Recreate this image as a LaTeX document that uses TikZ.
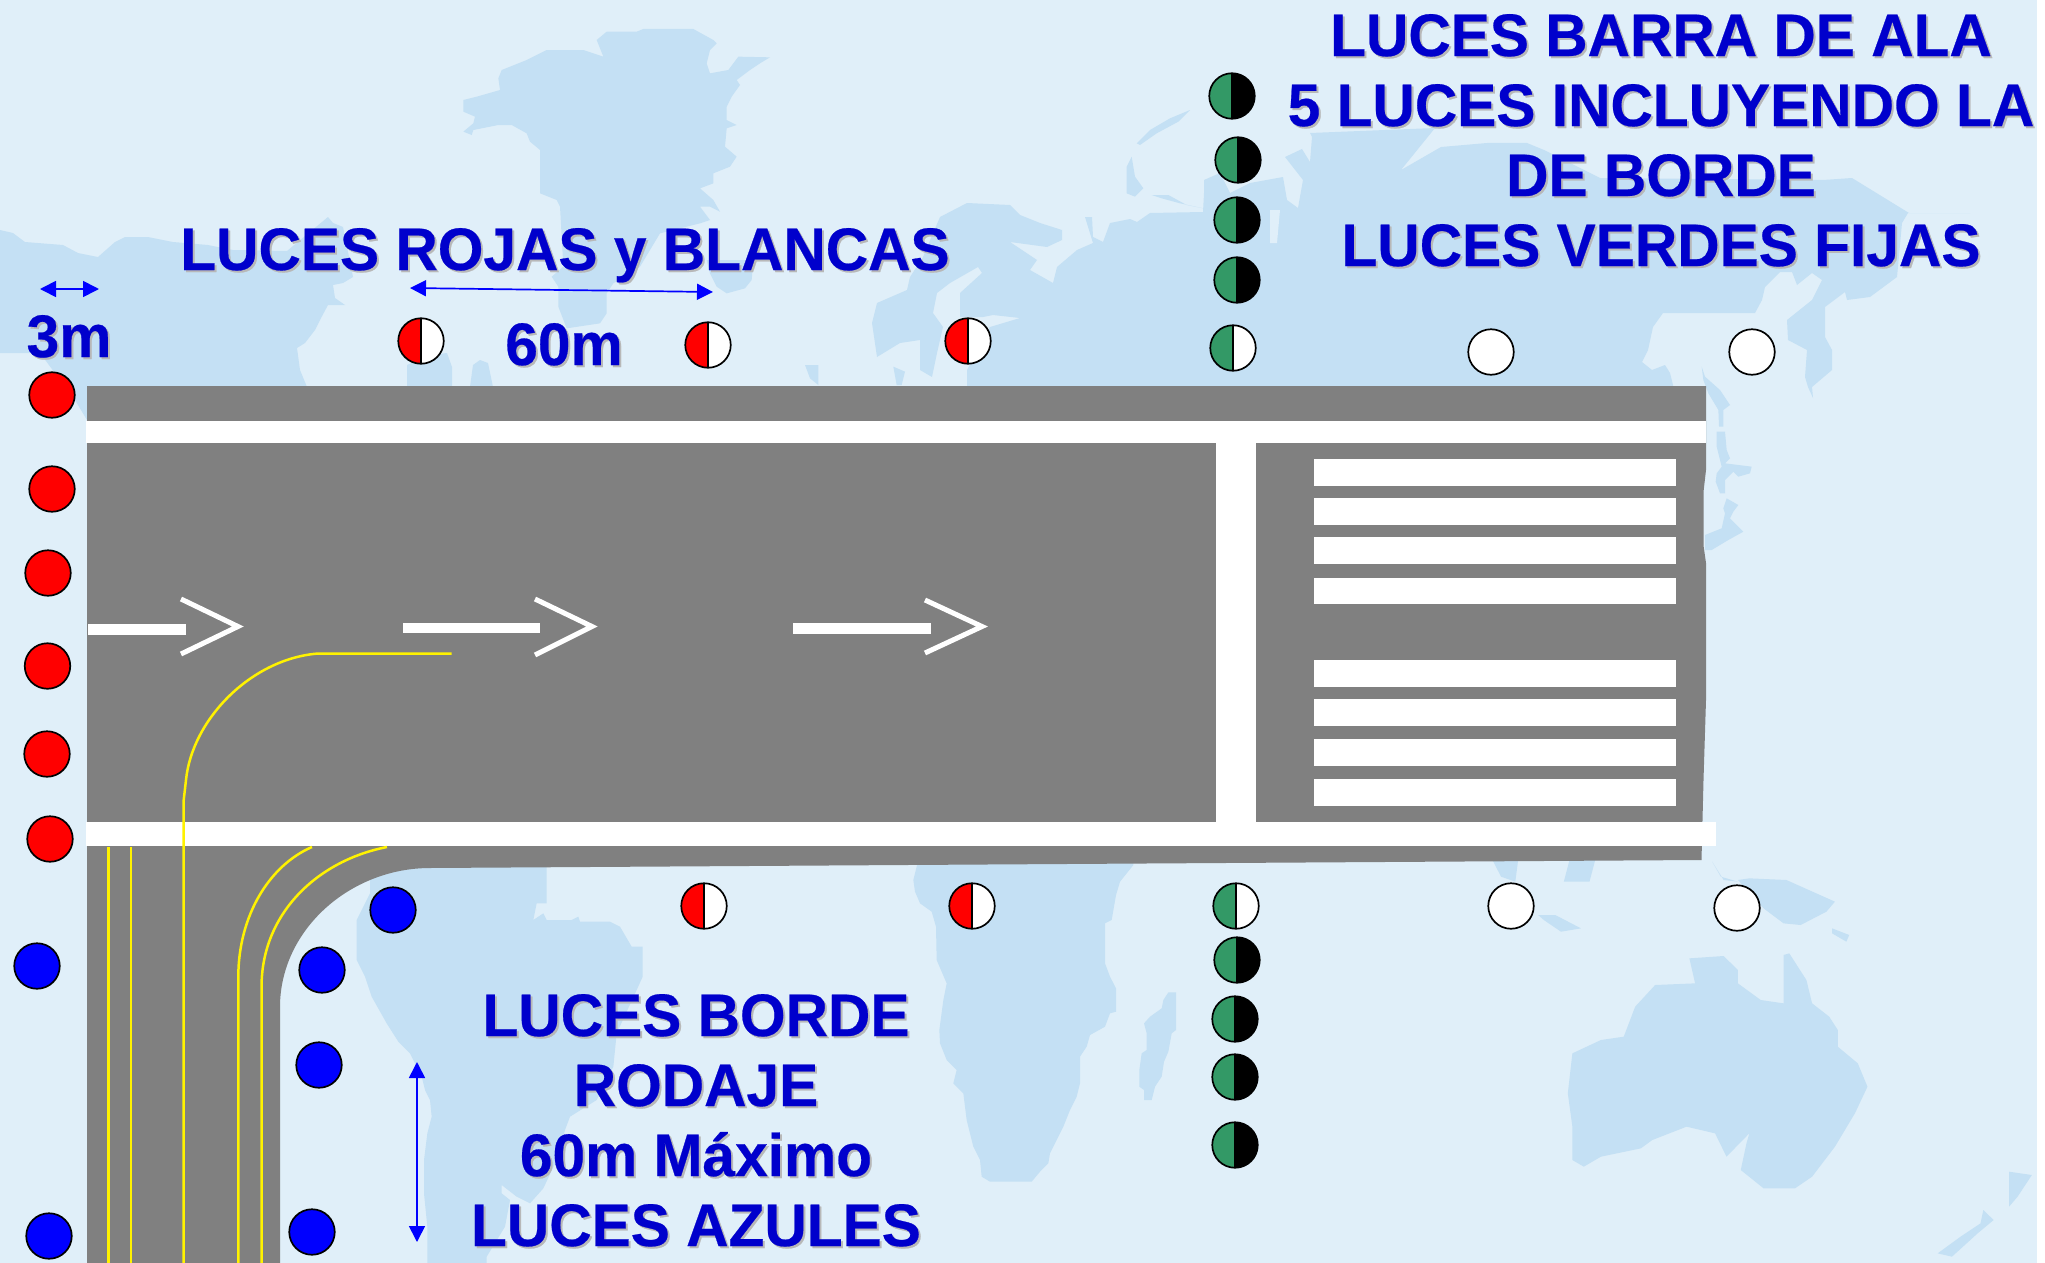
\documentclass[tikz,border=0pt]{standalone}
\usepackage{fontspec}
\setmainfont{Liberation Sans}[BoldFeatures={FakeStretch=0.978,FakeBold=0.4}]
\usetikzlibrary{arrows.meta}
\definecolor{seabg}{HTML}{E0EFF9}
\definecolor{landc}{HTML}{C4E0F4}
\definecolor{road}{HTML}{808080}
\definecolor{txtblue}{HTML}{0000CC}
\definecolor{txtshade}{HTML}{B8B8B8}
\definecolor{greenl}{HTML}{339966}
\definecolor{arrowb}{HTML}{0000FF}
\tikzset{
  land/.style={fill=landc},
  zoomed/.style={x=0.16667pt,y=-0.16667pt},
  zoomedw/.style={x=0.28539pt,y=-0.16667pt},
  wbar/.style={fill=white},
  ychev/.style={draw=white,line width=2.5pt,line join=miter},
  yline/.style={draw=yellow,line width=1.25pt},
  dim/.style={draw=arrowb,line width=.85pt,{Triangle[length=8pt,width=8pt]}-{Triangle[length=8pt,width=8pt]}},
  lightbase/.style={circle,draw=black,line width=.85pt,minimum size=22.75pt,inner sep=0pt},
  fullred/.style={lightbase,fill=red},
  fullblue/.style={lightbase,fill=arrowb},
  fullwhite/.style={lightbase,fill=white},
  halfl/.style 2 args={lightbase,path picture={
    \fill[#1] (path picture bounding box.south west) rectangle (path picture bounding box.north);
    \fill[#2] (path picture bounding box.south) rectangle (path picture bounding box.north east);
    \draw[black,line width=.85pt] (path picture bounding box.south) -- (path picture bounding box.north);}},
  rw/.style={halfl={red}{white}},
  gw/.style={halfl={greenl}{white}},
  gb/.style={halfl={greenl}{black}},
  txtmain/.style={anchor=base,align=center,inner sep=0pt,text=txtblue,font=\fontsize{30}{35}\selectfont\bfseries},
  txtshadow/.style={txtmain,text=txtshade,xshift=1pt,yshift=-1pt},
}
\newcommand{\shadowed}[3]{%
  \node[txtshadow] (#1s) at (#2) {#3};
  \node[txtmain] (#1) at (#2) {#3};}
\begin{document}
\begin{tikzpicture}[x=0.5pt,y=-0.5pt]
\useasboundingbox (0,0) rectangle (2045,1263);
\fill[white] (0,0) rectangle (2045,1263);
\fill[seabg] (0,0) rectangle (2037,1263);
% --- world map ---
\fill[land] (0,230)--(13,233)--(25,242)--(63,245)--(78,253)--(98,257)--(115,242)--(125,237)--(148,237)--(173,242)--(208,245)--(233,250)--(287,251)--(328,217)--(333,223)--(343,227)--(353,277)--(343,283)--(333,285)--(335,298)--(345,305)--(328,305)--(320,320)--(315,330)--(305,343)--(297,348)--(300,370)--(307,387)--(87,387)--(87,420)--(75,400)--(40,353)--(0,353)--cycle;
\fill[land] (407,387)--(407,365)--(430,355)--(447,353)--(452,367)--(452,387)--cycle;
\fill[land] (470,387)--(473,365)--(480,360)--(488,363)--(493,387)--cycle;
% Eurasia
\fill[land] (872,323)--(877,303)--(907,290)--(910,277)--(923,257)--(940,217)--(967,203)--(1010,205)--(1020,215)--(1040,223)--(1062,230)--(1062,240)--(1047,247)--(1010,242)--(1037,260)--(1030,270)--(1053,283)--(1057,267)--(1077,250)--(1093,243)--(1085,217)--(1092,217)--(1093,237)--(1103,242)--(1110,223)--(1130,219)--(1137,222)--(1150,213)--(1203,212)--(1204,193)--(1204,180)--(1220,173)--(1230,193)--(1250,183)--(1283,177)--(1287,200)--(1298,208)--(1303,180)--(1285,157)--(1302,149)--(1310,162)--(1312,137)--(1310,133)--(1435,128)--(1401,170)--(1441,147)--(1487,143)--(1527,143)--(1544,150)--(1600,178)--(1823,180)--(1852,178)--(1909,213)--(1970,213)--(1908,213)--(1902,223)--(1897,277)--(1870,297)--(1847,300)--(1845,292)--(1825,307)--(1825,337)--(1832,350)--(1832,370)--(1812,387)--(1813,398)--(1808,387)--(1805,377)--(1807,350)--(1788,340)--(1787,320)--(1812,300)--(1822,280)--(1812,273)--(1797,285)--(1792,272)--(1780,272)--(1765,287)--(1762,300)--(1755,313)--(1725,313)--(1663,313)--(1653,327)--(1648,350)--(1642,362)--(1652,370)--(1665,365)--(1670,373)--(1673,385)--(1673,387)--(967,387)--(967,370)--(990,327)--(1020,318)--(993,315)--(983,317)--(960,317)--(960,293)--(982,273)--(978,267)--(950,283)--(937,293)--(933,313)--(943,327)--(937,353)--(932,377)--(920,370)--(920,340)--(900,343)--(877,357)--cycle;
\fill[seabg] (1270,210)--(1280,210)--(1277,243)--(1270,243)--cycle;
% Greenland and the islands of the north
\begin{scope}[shift={(420,0)},zoomed]
\fill[land] (130,300)--(170,290)--(240,270)--(235,235)--(245,210)--(320,180)--(380,150)--(490,150)--(550,170)--(530,120)--(560,95)--(650,95)--(670,87)--(820,87)--(880,120)--(890,130)--(870,150)--(860,190)--(870,220)--(925,210)--(955,170)--(1050,172)--(1020,190)--(990,210)--(950,240)--(960,255)--(935,290)--(920,320)--(920,360)--(950,375)--(920,385)--(915,440)--(950,470)--(930,500)--(880,520)--(880,550)--(840,565)--(880,600)--(900,635)--(870,620)--(840,620)--(870,660)--(840,670)--(720,700)--(660,800)--(580,850)--(560,880)--(560,940)--(540,970)--(440,985)--(415,920)--(415,860)--(395,830)--(430,800)--(420,620)--(410,600)--(360,580)--(360,450)--(330,425)--(320,400)--(275,375)--(235,375)--(160,390)--(155,405)--(130,395)--(160,370)--(165,350)--(130,335)--cycle;
\fill[land] (860,780)--(1000,780)--(995,840)--(975,865)--(920,880)--(890,860)--(870,820)--cycle;
\fill[land] (1155,1095)--(1195,1095)--(1195,1155)--(1170,1135)--cycle;
\end{scope}
\begin{scope}[shift={(840,60)},zoomed]
\fill[land] (890,250)--(930,210)--(990,175)--(1050,150)--(1015,185)--(950,220)--(900,255)--cycle;
\fill[land] (860,320)--(875,290)--(885,350)--(910,385)--(885,410)--(860,400)--cycle;
\fill[land] (935,405)--(985,405)--(1040,435)--(1090,445)--(1020,430)--(965,415)--cycle;
\fill[land] (160,920)--(195,935)--(185,975)--(170,975)--cycle;
\end{scope}
% Japan and neighbours
\begin{scope}[shift={(1525,180)},zoomed]
\fill[land] (530,560)--(540,590)--(585,630)--(615,675)--(595,690)--(595,740)--(582,740)--(580,690)--(550,640)--(535,600)--cycle;
\fill[land] (575,755)--(600,755)--(605,810)--(615,835)--(600,850)--(640,855)--(680,860)--(675,880)--(640,890)--(625,875)--(600,900)--(600,940)--(585,940)--(572,905)--(575,880)--(590,860)--(575,800)--cycle;
\fill[land] (605,955)--(640,975)--(625,995)--(615,1015)--(655,1055)--(610,1080)--(560,1110)--(540,1110)--(540,1065)--(590,1045)--(600,1000)--(595,985)--cycle;
\end{scope}
% South America
\begin{scope}[shift={(340,860)},zoomed]
\fill[land] (90,0)--(620,0)--(620,130)--(590,130)--(580,180)--(610,160)--(620,180)--(695,180)--(715,170)--(720,185)--(810,185)--(840,200)--(875,260)--(908,260)--(908,350)--(890,390)--(830,520)--(820,620)--(770,720)--(690,770)--(675,810)--(650,900)--(610,985)--(570,1030)--(530,1010)--(485,975)--(485,1000)--(510,1020)--(495,1100)--(440,1190)--(440,1209)--(262,1209)--(262,1100)--(252,1000)--(252,900)--(262,820)--(275,770)--(270,720)--(255,690)--(245,650)--(210,580)--(175,545)--(140,490)--(95,410)--(75,350)--(50,300)--(50,180)--(90,100)--cycle;
\end{scope}
% Africa and Madagascar
\begin{scope}[shift={(860,860)},zoomed]
\fill[land] (175,0)--(820,0)--(820,15)--(800,40)--(780,65)--(768,105)--(755,180)--(735,190)--(735,310)--(750,350)--(768,385)--(768,455)--(750,460)--(735,500)--(690,525)--(680,560)--(660,590)--(660,670)--(650,710)--(630,750)--(610,800)--(590,840)--(570,880)--(565,910)--(540,935)--(515,965)--(390,965)--(365,950)--(360,900)--(340,860)--(320,780)--(310,700)--(280,670)--(290,630)--(260,600)--(240,550)--(238,510)--(250,420)--(260,370)--(230,300)--(228,200)--(215,155)--(180,130)--(165,95)--(160,60)--cycle;
\fill[land] (925,397)--(948,397)--(948,510)--(935,520)--(925,575)--(912,605)--(905,650)--(885,680)--(875,720)--(852,720)--(852,690)--(838,680)--(838,630)--(845,580)--(860,570)--(860,520)--(852,490)--(870,470)--(905,445)--(910,420)--cycle;
\end{scope}
% Australia, Indonesia, New Zealand
\begin{scope}[shift={(1150,780)},zoomedw]
\fill[land] (945,535)--(1005,528)--(1030,570)--(1030,610)--(1070,660)--(1110,670)--(1110,525)--(1120,520)--(1150,600)--(1160,670)--(1190,710)--(1205,750)--(1205,800)--(1240,850)--(1257,920)--(1235,1000)--(1200,1100)--(1160,1190)--(1130,1225)--(1075,1225)--(1035,1170)--(1045,1090)--(1050,1060)--(1010,1130)--(990,1060)--(940,1040)--(880,1080)--(860,1105)--(790,1130)--(760,1160)--(740,1140)--(740,1040)--(732,940)--(740,820)--(790,780)--(830,770)--(850,680)--(885,615)--(955,610)--cycle;
\fill[land] (1030,300)--(1050,295)--(1115,300)--(1200,365)--(1185,395)--(1140,435)--(1110,430)--(1075,385)--cycle;
\fill[land] (985,245)--(1000,290)--(1030,305)--(1005,300)--cycle;
\fill[land] (1195,445)--(1225,465)--(1220,485)--(1195,460)--cycle;
\fill[land] (600,240)--(645,240)--(640,305)--(615,290)--cycle;
\fill[land] (735,240)--(780,240)--(770,305)--(725,305)--cycle;
\fill[land] (680,405)--(710,405)--(755,445)--(720,455)--(690,420)--cycle;
\fill[land] (1505,1175)--(1545,1185)--(1520,1250)--(1505,1280)--cycle;
\fill[land] (1460,1290)--(1478,1320)--(1450,1360)--(1405,1430)--(1380,1420)--(1420,1370)--(1455,1330)--cycle;
\end{scope}
% --- runway and taxiway ---
\fill[road] (87,386)--(1706,386)--(1706,470)--(1703.7,490)--(1703.7,547)--(1706,563)--(1706,700)--(1703.5,780)--(1701.5,860)--(430,868)
  .. controls (350,868) and (280,930) .. (280,1007)--(280,1263)--(87,1263)--cycle;
\fill[wbar] (86,421) rectangle (1706,443);
\fill[wbar] (86,822) rectangle (1716,846);
\fill[wbar] (1215.5,443) rectangle (1255.5,822);
\foreach \ya/\yb in {459/485.5,498/524.5,537/564,578/604,660/687,699/726,739/766,779/806}
  \fill[wbar] (1314,\ya) rectangle (1676,\yb);
% arrows painted on the runway
\fill[wbar] (88,624) rectangle (186,635);
\draw[ychev] (181,599)--(238,626.5)--(181,654);
\fill[wbar] (403,623) rectangle (540,633);
\draw[ychev] (535,599)--(592,626.5)--(535,655);
\fill[wbar] (793,623) rectangle (931,634);
\draw[ychev] (925,600)--(982,626.5)--(925,653);
% yellow lines
\draw[yline] (108.7,847)--(108.7,1263);
\draw[yline] (131,847)--(131,1263);
\draw[yline] (183.7,1263)--(183.7,800)--(186,780) .. controls (192,720) and (250,660) .. (316,653.7)--(451.5,653.7);
\draw[yline] (238.3,1263)--(238.3,977) .. controls (238.3,915) and (270,865) .. (312,847);
\draw[yline] (261.7,1263)--(261.7,980) .. controls (265,910) and (320,860) .. (387,847);
% --- lights ---
\node[fullred] (r1) at (52,395) {};
\node[fullred] (r2) at (52,489) {};
\node[fullred] (r3) at (48,573) {};
\node[fullred] (r4) at (47.5,666) {};
\node[fullred] (r5) at (47,754) {};
\node[fullred] (r6) at (50,839) {};
\node[fullblue] (b1) at (37,966) {};
\node[fullblue] (b2) at (49,1236) {};
\node[fullblue] (b3) at (393,910) {};
\node[fullblue] (b4) at (322,970) {};
\node[fullblue] (b5) at (319,1065) {};
\node[fullblue] (b6) at (312,1232) {};
\node[rw] (rwt1) at (421,341) {};
\node[rw] (rwt2) at (708,345) {};
\node[rw] (rwt3) at (968,341) {};
\node[gw] (gwt) at (1233,348) {};
\node[fullwhite] (wt1) at (1491,352) {};
\node[fullwhite] (wt2) at (1752,352) {};
\node[gb] (gbt1) at (1232,96) {};
\node[gb] (gbt2) at (1238,160) {};
\node[gb] (gbt3) at (1237,220) {};
\node[gb] (gbt4) at (1237,280) {};
\node[rw] (rwb1) at (704,906) {};
\node[rw] (rwb2) at (972,906) {};
\node[gw] (gwb) at (1236,906) {};
\node[fullwhite] (wb1) at (1511,906) {};
\node[fullwhite] (wb2) at (1737,908) {};
\node[gb] (gbb1) at (1237,960) {};
\node[gb] (gbb2) at (1235,1019) {};
\node[gb] (gbb3) at (1235,1077) {};
\node[gb] (gbb4) at (1235,1145) {};
% --- dimension arrows ---
\coordinate (dimaL) at (40,289);
\coordinate (dimaR) at (99,289);
\draw[dim] (dimaL)--(dimaR);
\coordinate (dimbL) at (410,288);
\coordinate (dimbR) at (713,292);
\draw[dim] (dimbL)--(dimbR);
\coordinate (dimcT) at (417,1062);
\coordinate (dimcB) at (417,1242);
\draw[dim] (dimcT)--(dimcB);
% --- texts ---
\shadowed{tala}{1661,266}{LUCES BARRA DE ALA\\5 LUCES INCLUYENDO LA\\DE BORDE\\LUCES VERDES FIJAS}
\shadowed{troj}{565,270}{LUCES ROJAS y BLANCAS}
\shadowed{ttres}{69,357}{3m}
\shadowed{tsesenta}{564,365}{60m}
\shadowed{tborde}{696,1246}{LUCES BORDE\\RODAJE\\60m Máximo\\LUCES AZULES}
\end{tikzpicture}
\end{document}
